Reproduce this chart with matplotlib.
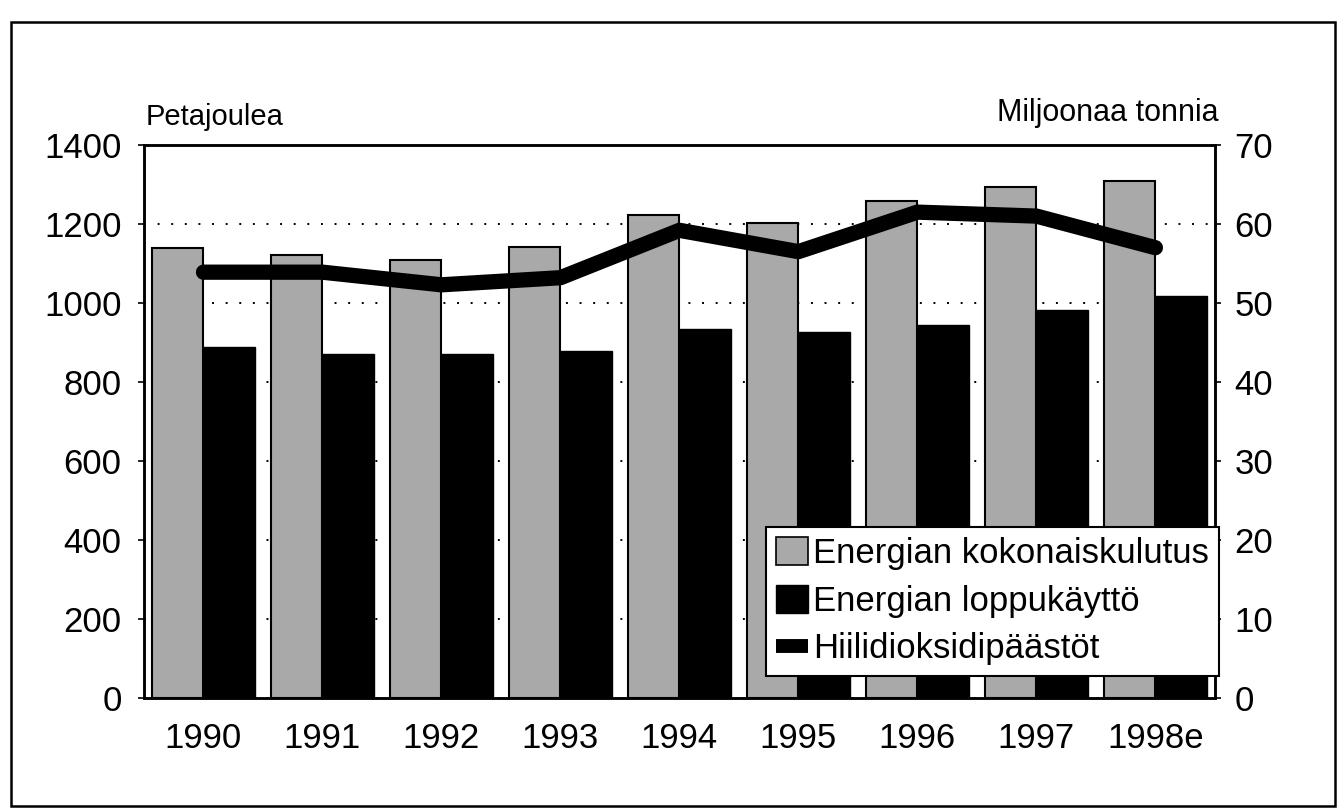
import numpy as np
import matplotlib.pyplot as plt
from matplotlib.patches import Rectangle, Patch
from matplotlib.lines import Line2D

plt.rcParams['font.family'] = ['Liberation Sans', 'DejaVu Sans']

years = ['1990', '1991', '1992', '1993', '1994', '1995', '1996', '1997', '1998e']
total_pj = [1139, 1121, 1109, 1142, 1223, 1203, 1258, 1294, 1309]
final_pj = [889, 871, 871, 878, 934, 927, 944, 982, 1018]
co2_mt = [53.9, 53.9, 52.3, 53.2, 59.2, 56.5, 61.5, 61.0, 57.0]

x = np.arange(len(years))
w = 0.43

fig = plt.figure(figsize=(13.38, 8.10), dpi=100)
ax = fig.add_axes([0.1076, 0.1383, 0.8004, 0.6827])
ax2 = ax.twinx()

# Gridlines behind bars
ax.set_axisbelow(True)
ax.yaxis.grid(True, linestyle=(0, (1, 6)), color='black', linewidth=1.4)

ax.bar(x - w / 2, total_pj, w, color='#a9a9a9', edgecolor='black', linewidth=1.5)
ax.bar(x + w / 2, final_pj, w, color='black', edgecolor='black', linewidth=1.0)
ax2.plot(x, co2_mt, color='black', linewidth=11, solid_capstyle='round', solid_joinstyle='round')

ax.set_xlim(-0.5, len(years) - 0.5)
ax.set_ylim(0, 1400)
ax.set_yticks(range(0, 1401, 200))
ax2.set_ylim(0, 70)
ax2.set_yticks(range(0, 71, 10))

ax.set_xticks(x)
ax.set_xticklabels(years)
ax.tick_params(axis='x', length=0, pad=17, labelsize=25)
ax.tick_params(axis='y', length=4, width=1.2, direction='out', pad=12, labelsize=25)
ax2.tick_params(axis='y', length=4, width=1.2, direction='out', pad=10, labelsize=25)

for a in (ax, ax2):
    for s in a.spines.values():
        s.set_linewidth(1.8)

fig.text(0.109, 0.855, 'Petajoulea', fontsize=21, ha='left', va='center')
fig.text(0.911, 0.860, 'Miljoonaa tonnia', fontsize=22, ha='right', va='center')

handles = [
    Patch(facecolor='#a9a9a9', edgecolor='black', linewidth=1.2),
    Patch(facecolor='black', edgecolor='black'),
    Line2D([0], [0], color='black', linewidth=10, solid_capstyle='butt'),
]
labels = ['Energian kokonaiskulutus', 'Energian loppukäyttö', 'Hiilidioksidipäästöt']
leg = ax2.legend(handles, labels, loc='lower right', bbox_to_anchor=(1.004, 0.04),
                 fontsize=25, frameon=True, fancybox=False, edgecolor='black',
                 framealpha=1, handlelength=0.9, handleheight=0.85, handletextpad=0.15,
                 borderpad=0.3, labelspacing=0.42, borderaxespad=0)
leg.get_frame().set_linewidth(1.5)

# Outer frame around the whole figure
fig.patches.append(Rectangle((11 / 1338, 4 / 810), 1324 / 1338, 784 / 810,
                             transform=fig.transFigure, fill=False,
                             edgecolor='black', linewidth=1.8))

fig.savefig('out.png', dpi=100)
